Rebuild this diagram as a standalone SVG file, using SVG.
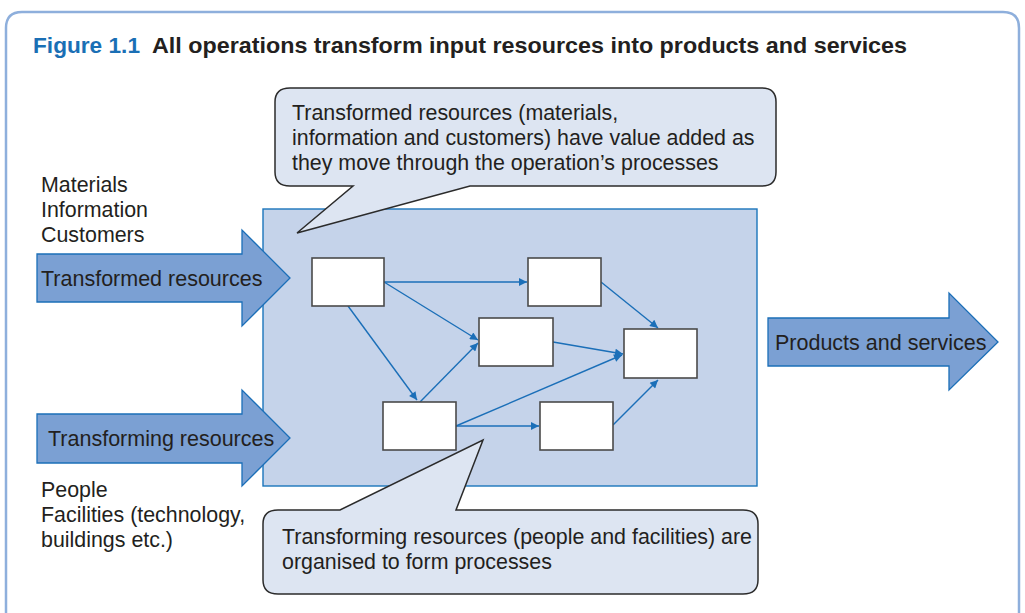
<svg xmlns="http://www.w3.org/2000/svg" width="1025" height="613" viewBox="0 0 1025 613">
<defs>
<style>
.t{font-family:"Liberation Sans",Arial,sans-serif;font-size:21.4px;fill:#231f20}
.a{font-size:21.5px}
.big{fill:#7ba0d3;stroke:#1b6fb8;stroke-width:1.3}
.call{fill:#dde5f2;stroke:#2b2b2b;stroke-width:1.5}
.box{fill:#fff;stroke:#4a4a4a;stroke-width:1.6}
.con{fill:none;stroke:#1b6fb8;stroke-width:1.4;marker-end:url(#ah)}
</style>
<marker id="ah" viewBox="0 0 10 10" refX="10" refY="5" markerWidth="10" markerHeight="8" markerUnits="userSpaceOnUse" orient="auto">
<path d="M0,0 L10,5 L0,10 z" fill="#1b6fb8"/>
</marker>
</defs>
<rect width="1025" height="613" fill="#fff"/>
<path d="M6,613 V28 Q6,12 22,12 H1003 Q1019,12 1019,28 V613" fill="none" stroke="#8eafdc" stroke-width="2.5"/>
<text x="33" y="53" font-family="Liberation Sans,Arial,sans-serif" font-weight="bold" font-size="22" fill="#1a6fb5" textLength="107" lengthAdjust="spacingAndGlyphs">Figure 1.1</text>
<text x="152" y="53" font-family="Liberation Sans,Arial,sans-serif" font-weight="bold" font-size="22" fill="#231f20" textLength="755" lengthAdjust="spacingAndGlyphs">All operations transform input resources into products and services</text>

<g id="operation">
<rect x="263" y="209" width="494" height="277" fill="#c5d3ea" stroke="#1b75bb" stroke-width="1.4"/>
</g>

<g id="callout-top">
<path class="call" d="M290,88 H762 Q776,88 776,102 V172 Q776,186 762,186 H470 L297,233 L353,186 H290 Q275,186 275,172 V102 Q275,88 290,88 Z"/>
<text class="t" x="292" y="120">Transformed resources (materials,</text>
<text class="t" x="292" y="145">information and customers) have value added as</text>
<text class="t" x="292" y="170">they move through the operation’s processes</text>
</g>

<g id="callout-bottom">
<path class="call" d="M278,510 H340 L483,440 L456,510 H743 Q758,510 758,524 V580 Q758,594 743,594 H278 Q263,594 263,580 V524 Q263,510 278,510 Z"/>
<text class="t" x="282" y="544">Transforming resources (people and facilities) are</text>
<text class="t" x="282" y="569">organised to form processes</text>
</g>

<g id="transformed-resources">
<path class="big" d="M37,254 H242 V230 L290,278 L242,326 V302 H37 Z"/>
<text class="t a" x="41" y="286">Transformed resources</text>
</g>
<g id="transformed-label">
<text class="t" x="41" y="192">Materials</text>
<text class="t" x="41" y="217">Information</text>
<text class="t" x="41" y="242">Customers</text>
</g>

<g id="transforming-resources">
<path class="big" d="M37,414 H242 V390 L290,438 L242,486 V463 H37 Z"/>
<text class="t a" x="48" y="446">Transforming resources</text>
</g>
<g id="transforming-label">
<text class="t" x="41" y="497">People</text>
<text class="t" x="41" y="522">Facilities (technology,</text>
<text class="t" x="41" y="547">buildings etc.)</text>
</g>

<g id="products-services">
<path class="big" d="M768,318 H949 V293 L998,342 L949,390 V366 H768 Z"/>
<text class="t a" x="775" y="350">Products and services</text>
</g>

<g id="connectors">
<line class="con" x1="384" y1="282" x2="527" y2="282"/>
<line class="con" x1="384" y1="282" x2="478" y2="340"/>
<line class="con" x1="348" y1="306" x2="417" y2="400"/>
<line class="con" x1="420" y1="402" x2="478" y2="343"/>
<line class="con" x1="553" y1="342" x2="623" y2="354"/>
<line class="con" x1="456" y1="426" x2="622" y2="355"/>
<line class="con" x1="456" y1="426" x2="539" y2="426"/>
<line class="con" x1="601" y1="282" x2="658" y2="328"/>
<line class="con" x1="613" y1="425" x2="658" y2="380"/>
</g>

<g id="p1"><rect class="box" x="312" y="258" width="72" height="48"/></g>
<g id="p2"><rect class="box" x="528" y="258" width="73" height="48"/></g>
<g id="p3"><rect class="box" x="479" y="318" width="74" height="48"/></g>
<g id="p4"><rect class="box" x="624" y="329" width="73" height="49"/></g>
<g id="p5"><rect class="box" x="383" y="402" width="73" height="48"/></g>
<g id="p6"><rect class="box" x="540" y="402" width="73" height="48"/></g>
</svg>
